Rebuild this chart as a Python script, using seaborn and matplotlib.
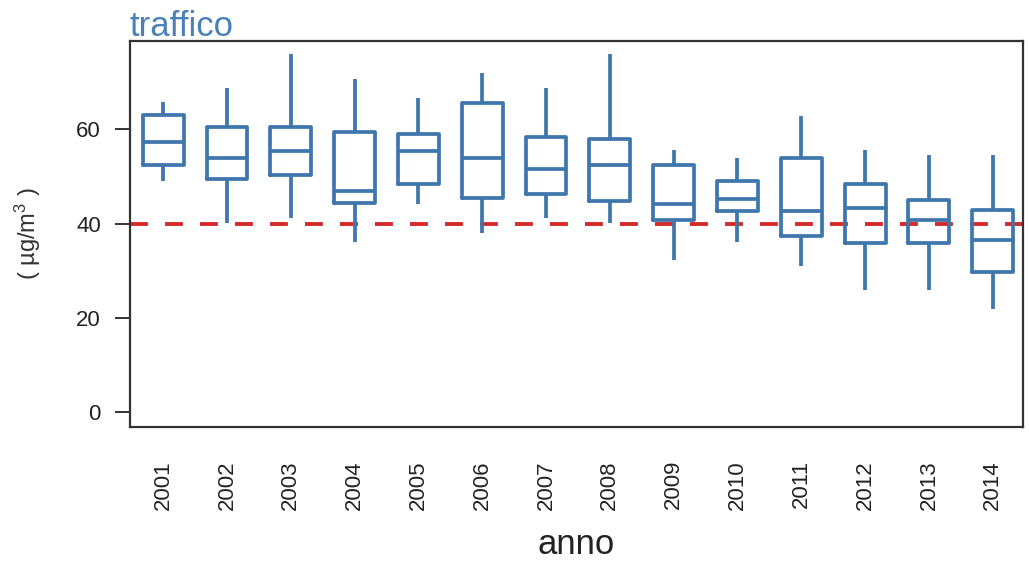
import numpy as np
import pandas as pd
import matplotlib
matplotlib.use("Agg")
import matplotlib.pyplot as plt
import seaborn as sns

# five-number summary per year (µg/m3)
years = ["2001", "2002", "2003", "2004", "2005", "2006", "2007",
         "2008", "2009", "2010", "2011", "2012", "2013", "2014"]
whisker_low = [49.0, 40.1, 41.1, 36.1, 44.2, 38.0, 41.2, 40.1, 32.2, 36.1, 31.1, 26.0, 26.0, 22.0]
box_low = [52.4, 49.4, 50.3, 44.4, 48.3, 45.4, 46.2, 44.8, 40.8, 42.6, 37.3, 35.8, 35.8, 29.7]
medians = [57.3, 53.9, 55.4, 46.9, 55.3, 53.9, 51.5, 52.4, 44.2, 45.3, 42.6, 43.4, 40.7, 36.5]
box_high = [63.1, 60.5, 60.4, 59.4, 59.0, 65.6, 58.4, 58.0, 52.5, 49.0, 53.8, 48.3, 44.9, 42.8]
whisker_high = [65.8, 68.8, 75.9, 70.6, 66.7, 72.0, 68.8, 75.9, 55.7, 53.8, 62.8, 55.6, 54.6, 54.6]
limit_value = 40  # limite annuale NO2

BLUE = "#3f77ad"
RED = "#d42a2a"
DARK = "#333333"

# build a long table: the five points give exactly these quartiles with whis=(0, 100)
rows = []
for i, y in enumerate(years):
    for v in (whisker_low[i], box_low[i], medians[i], box_high[i], whisker_high[i]):
        rows.append({"anno": y, "valore": v})
df = pd.DataFrame(rows)

sns.set_theme(style="white")
plt.rcParams["font.family"] = ["Liberation Sans", "DejaVu Sans"]
plt.rcParams["mathtext.default"] = "regular"

fig = plt.figure(figsize=(10.29, 5.63), dpi=100)
ax = fig.add_axes([0.1263, 0.2421, 0.8676, 0.6851])

line_kw = dict(color=BLUE, linewidth=2.7)
sns.boxplot(data=df, x="anno", y="valore", order=years, ax=ax,
            whis=(0, 100), width=0.64, fill=False, showfliers=False,
            showcaps=False, color=BLUE, linecolor=BLUE, linewidth=2.7,
            boxprops=line_kw, whiskerprops=line_kw, medianprops=line_kw)

# limit line at 40
ax.axhline(limit_value, color=RED, linewidth=2.8, linestyle=(0, (4.6, 4.4)), zorder=0)

ax.set_xlim(-0.52, 13.47)
ax.set_ylim(-3.03, 78.7)
ax.set_yticks([0, 20, 40, 60])

for s in ax.spines.values():
    s.set_visible(True)
    s.set_color(DARK)
    s.set_linewidth(1.6)

ax.tick_params(axis="y", left=True, length=11, width=1.4, color=DARK,
               labelsize=16, pad=10, labelcolor="#222222")
ax.tick_params(axis="x", bottom=False, length=0, labelsize=16, pad=24,
               labelcolor="#222222", labelrotation=90)

ax.set_xlabel("anno", fontsize=25, color="#222222")
ax.xaxis.set_label_coords(0.5, -0.33)
ax.xaxis.label.set_va("baseline")
ax.set_ylabel("( µg/m$^3$ )", fontsize=17, color="#333333")
ax.yaxis.set_label_coords(-0.097, 0.5)

ax.text(0.0, 1.013, "traffico", transform=ax.transAxes, ha="left", va="baseline",
        fontsize=25, color="#4a80b8")

fig.savefig("out.png", dpi=100)
